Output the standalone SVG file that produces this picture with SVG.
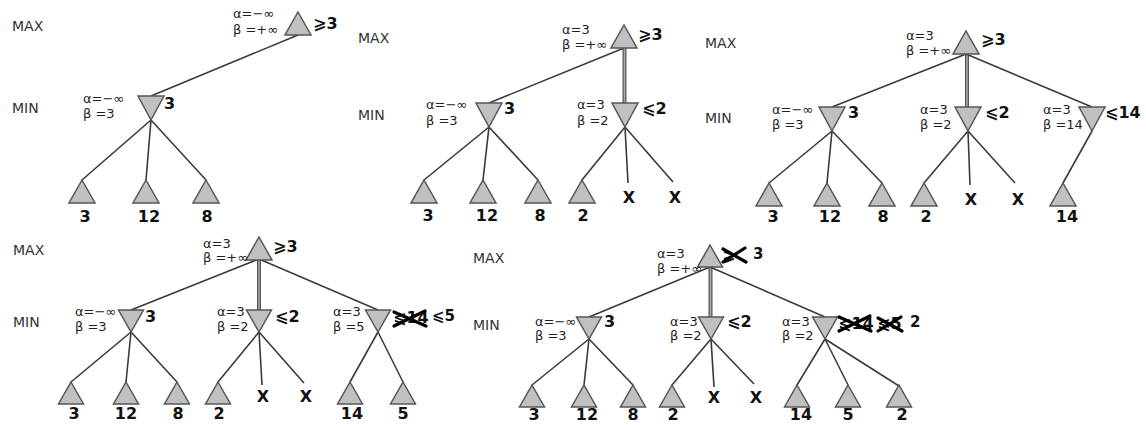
<svg xmlns="http://www.w3.org/2000/svg" xmlns:xlink="http://www.w3.org/1999/xlink" width="1146" height="425" viewBox="0 0 1146 425">
<style>
.tri{fill:#c0c0c0;stroke:#555;stroke-width:1.5;stroke-linejoin:miter}
.edge{stroke:#3a3a3a;stroke-width:1.6;fill:none}
.thick{stroke:#555;stroke-width:4}
.thickin{stroke:#a8a8a8;stroke-width:1.6}
.lvl{font-family:"DejaVu Sans",sans-serif;font-size:14px;fill:#333}
.ab{font-family:"DejaVu Sans",sans-serif;font-size:13px;fill:#222}
.val{font-family:"DejaVu Sans",sans-serif;font-weight:bold;font-size:16px;fill:#111}
.sm{font-size:15px}
.lv{font-family:"DejaVu Sans",sans-serif;font-weight:bold;font-size:16px;fill:#111;text-anchor:middle}
.cross{stroke:#000;stroke-width:3.2;stroke-linecap:round}
</style>
<defs>
<path id="up" class="tri" d="M0,0 L13,23 L-13,23 Z"/>
<path id="dn" class="tri" d="M-13,0 L13,0 L0,24 Z"/>
<path id="upS" class="tri" d="M0,0 L12.5,22 L-12.5,22 Z"/>
<path id="dnS" class="tri" d="M-12.5,0 L12.5,0 L0,22 Z"/>
</defs>
<rect width="1146" height="425" fill="#fff"/>

<g id="connectors">
<!-- panel 1 -->
<line class="edge" x1="298" y1="35" x2="151" y2="96"/>
<line class="edge" x1="151" y1="120" x2="82" y2="180"/>
<line class="edge" x1="151" y1="120" x2="146" y2="180"/>
<line class="edge" x1="151" y1="120" x2="206" y2="180"/>
<!-- panel 2 -->
<line class="edge" x1="624" y1="48" x2="489" y2="103"/>
<line class="thick" x1="624.5" y1="48" x2="624.5" y2="103"/>
<line class="thickin" x1="624.5" y1="48" x2="624.5" y2="103"/>
<line class="edge" x1="489" y1="127" x2="424" y2="180"/>
<line class="edge" x1="489" y1="127" x2="483" y2="180"/>
<line class="edge" x1="489" y1="127" x2="538" y2="180"/>
<line class="edge" x1="625" y1="127" x2="582" y2="180"/>
<line class="edge" x1="625" y1="127" x2="628" y2="183"/>
<line class="edge" x1="625" y1="127" x2="673" y2="182"/>
<!-- panel 3 -->
<line class="edge" x1="966" y1="54" x2="832" y2="107"/>
<line class="thick" x1="967" y1="54" x2="967" y2="107"/>
<line class="thickin" x1="967" y1="54" x2="967" y2="107"/>
<line class="edge" x1="966" y1="54" x2="1092" y2="107"/>
<line class="edge" x1="832" y1="131" x2="769" y2="183"/>
<line class="edge" x1="832" y1="131" x2="827" y2="183"/>
<line class="edge" x1="832" y1="131" x2="882" y2="183"/>
<line class="edge" x1="968" y1="131" x2="924" y2="183"/>
<line class="edge" x1="968" y1="131" x2="970" y2="185"/>
<line class="edge" x1="968" y1="131" x2="1015" y2="183"/>
<line class="edge" x1="1092" y1="131" x2="1063" y2="183"/>
<!-- panel 4 -->
<line class="edge" x1="259" y1="259" x2="131" y2="310"/>
<line class="thick" x1="259" y1="259" x2="259" y2="310"/>
<line class="thickin" x1="259" y1="259" x2="259" y2="310"/>
<line class="edge" x1="259" y1="259" x2="378" y2="310"/>
<line class="edge" x1="131" y1="332" x2="71" y2="382"/>
<line class="edge" x1="131" y1="332" x2="126" y2="382"/>
<line class="edge" x1="131" y1="332" x2="177" y2="382"/>
<line class="edge" x1="259" y1="332" x2="218" y2="382"/>
<line class="edge" x1="259" y1="332" x2="262" y2="385"/>
<line class="edge" x1="259" y1="332" x2="304" y2="383"/>
<line class="edge" x1="378" y1="332" x2="350" y2="382"/>
<line class="edge" x1="378" y1="332" x2="403" y2="382"/>
<!-- panel 5 -->
<line class="edge" x1="710" y1="267" x2="589" y2="317"/>
<line class="thick" x1="710.5" y1="267" x2="710.5" y2="317"/>
<line class="thickin" x1="710.5" y1="267" x2="710.5" y2="317"/>
<line class="edge" x1="710" y1="267" x2="825" y2="317"/>
<line class="edge" x1="589" y1="339" x2="532" y2="385"/>
<line class="edge" x1="589" y1="339" x2="584" y2="385"/>
<line class="edge" x1="589" y1="339" x2="633" y2="385"/>
<line class="edge" x1="711" y1="339" x2="672" y2="385"/>
<line class="edge" x1="711" y1="339" x2="714" y2="387"/>
<line class="edge" x1="711" y1="339" x2="754" y2="384"/>
<line class="edge" x1="825" y1="339" x2="797" y2="385"/>
<line class="edge" x1="825" y1="339" x2="848" y2="385"/>
<line class="edge" x1="825" y1="339" x2="899" y2="386"/>
</g>

<!-- Level labels -->
<g id="levels">
<text class="lvl" x="12" y="31">MAX</text>
<text class="lvl" x="12" y="113">MIN</text>
<text class="lvl" x="358" y="43">MAX</text>
<text class="lvl" x="358" y="120">MIN</text>
<text class="lvl" x="705" y="48">MAX</text>
<text class="lvl" x="705" y="123">MIN</text>
<text class="lvl" x="13" y="255">MAX</text>
<text class="lvl" x="13" y="327">MIN</text>
<text class="lvl" x="473" y="263">MAX</text>
<text class="lvl" x="473" y="330">MIN</text>
</g>

<!-- Panel 1 -->
<g id="p1-max"><use href="#up" x="298" y="12"/><text class="ab" x="233" y="18">α=−∞</text><text class="ab" x="233" y="34">β =+∞</text><text class="val" x="313" y="29">⩾3</text></g>
<g id="p1-min"><use href="#dn" x="151" y="96"/><text class="ab" x="83" y="103">α=−∞</text><text class="ab" x="83" y="118">β =3</text><text class="val" x="164" y="109">3</text></g>
<g id="p1-l1"><use href="#up" x="82" y="180"/><text class="lv" x="85" y="222">3</text></g>
<g id="p1-l2"><use href="#up" x="146" y="180"/><text class="lv" x="149" y="222">12</text></g>
<g id="p1-l3"><use href="#up" x="206" y="180"/><text class="lv" x="207" y="222">8</text></g>

<!-- Panel 2 -->
<g id="p2-max"><use href="#up" x="624" y="25"/><text class="ab" x="562" y="34">α=3</text><text class="ab" x="562" y="49">β =+∞</text><text class="val" x="638" y="40">⩾3</text></g>
<g id="p2-min1"><use href="#dn" x="489" y="103"/><text class="ab" x="426" y="109">α=−∞</text><text class="ab" x="426" y="125">β =3</text><text class="val" x="504" y="114">3</text></g>
<g id="p2-min2"><use href="#dn" x="625" y="103"/><text class="ab" x="577" y="109">α=3</text><text class="ab" x="577" y="125">β =2</text><text class="val" x="642" y="114">⩽2</text></g>
<g id="p2-l1"><use href="#up" x="424" y="180"/><text class="lv" x="428" y="221">3</text></g>
<g id="p2-l2"><use href="#up" x="483" y="180"/><text class="lv" x="487" y="221">12</text></g>
<g id="p2-l3"><use href="#up" x="538" y="180"/><text class="lv" x="540" y="221">8</text></g>
<g id="p2-l4"><use href="#up" x="582" y="180"/><text class="lv" x="583" y="221">2</text></g>
<g id="p2-x1"><text class="lv" x="629" y="203">X</text></g>
<g id="p2-x2"><text class="lv" x="675" y="203">X</text></g>

<!-- Panel 3 -->
<g id="p3-max"><use href="#up" x="966" y="31"/><text class="ab" x="906" y="40">α=3</text><text class="ab" x="906" y="55">β =+∞</text><text class="val" x="981" y="45">⩾3</text></g>
<g id="p3-min1"><use href="#dn" x="832" y="107"/><text class="ab" x="772" y="114">α=−∞</text><text class="ab" x="772" y="129">β =3</text><text class="val" x="848" y="118">3</text></g>
<g id="p3-min2"><use href="#dn" x="968" y="107"/><text class="ab" x="920" y="114">α=3</text><text class="ab" x="920" y="129">β =2</text><text class="val" x="985" y="118">⩽2</text></g>
<g id="p3-min3"><use href="#dn" x="1092" y="107"/><text class="ab" x="1043" y="114">α=3</text><text class="ab" x="1043" y="129">β =14</text><text class="val" x="1105" y="118">⩽14</text></g>
<g id="p3-l1"><use href="#up" x="769" y="183"/><text class="lv" x="773" y="222">3</text></g>
<g id="p3-l2"><use href="#up" x="827" y="183"/><text class="lv" x="830" y="222">12</text></g>
<g id="p3-l3"><use href="#up" x="882" y="183"/><text class="lv" x="883" y="222">8</text></g>
<g id="p3-l4"><use href="#up" x="924" y="183"/><text class="lv" x="926" y="222">2</text></g>
<g id="p3-x1"><text class="lv" x="971" y="205">X</text></g>
<g id="p3-x2"><text class="lv" x="1018" y="205">X</text></g>
<g id="p3-l5"><use href="#up" x="1063" y="183"/><text class="lv" x="1067" y="222">14</text></g>

<!-- Panel 4 -->
<g id="p4-max"><use href="#up" x="259" y="237"/><text class="ab" x="203" y="248">α=3</text><text class="ab" x="203" y="262">β =+∞</text><text class="val" x="273" y="252">⩾3</text></g>
<g id="p4-min1"><use href="#dnS" x="131" y="310"/><text class="ab" x="75" y="316">α=−∞</text><text class="ab" x="75" y="331">β =3</text><text class="val" x="145" y="322">3</text></g>
<g id="p4-min2"><use href="#dnS" x="259" y="310"/><text class="ab" x="217" y="316">α=3</text><text class="ab" x="217" y="331">β =2</text><text class="val" x="275" y="322">⩽2</text></g>
<g id="p4-min3"><use href="#dnS" x="378" y="310"/><text class="ab" x="333" y="316">α=3</text><text class="ab" x="333" y="331">β =5</text><text class="val" x="393" y="323">⩽14</text><line class="cross" x1="394" y1="312" x2="426" y2="326"/><line class="cross" x1="394" y1="326" x2="425" y2="311"/><text class="val sm" x="432" y="321">⩽5</text></g>
<g id="p4-l1"><use href="#upS" x="71" y="382"/><text class="lv" x="74" y="419">3</text></g>
<g id="p4-l2"><use href="#upS" x="126" y="382"/><text class="lv" x="126" y="419">12</text></g>
<g id="p4-l3"><use href="#upS" x="177" y="382"/><text class="lv" x="178" y="419">8</text></g>
<g id="p4-l4"><use href="#upS" x="218" y="382"/><text class="lv" x="219" y="419">2</text></g>
<g id="p4-x1"><text class="lv" x="263" y="402">X</text></g>
<g id="p4-x2"><text class="lv" x="306" y="402">X</text></g>
<g id="p4-l5"><use href="#upS" x="350" y="382"/><text class="lv" x="352" y="419">14</text></g>
<g id="p4-l6"><use href="#upS" x="403" y="382"/><text class="lv" x="403" y="419">5</text></g>

<!-- Panel 5 -->
<g id="p5-max"><use href="#upS" x="710" y="245"/><text class="ab" x="657" y="258">α=3</text><text class="ab" x="657" y="273">β =+∞</text><text class="val" x="722" y="261">⩾</text><line class="cross" x1="723" y1="249" x2="746" y2="262"/><line class="cross" x1="723" y1="262" x2="745" y2="248"/><text class="val sm" x="753" y="259">3</text></g>
<g id="p5-min1"><use href="#dnS" x="589" y="317"/><text class="ab" x="535" y="326">α=−∞</text><text class="ab" x="535" y="340">β =3</text><text class="val" x="604" y="327">3</text></g>
<g id="p5-min2"><use href="#dnS" x="711" y="317"/><text class="ab" x="670" y="326">α=3</text><text class="ab" x="670" y="340">β =2</text><text class="val" x="727" y="327">⩽2</text></g>
<g id="p5-min3"><use href="#dnS" x="825" y="317"/><text class="ab" x="782" y="326">α=3</text><text class="ab" x="782" y="340">β =2</text><text class="val" x="838" y="329">⩽14</text><line class="cross" x1="839" y1="317" x2="871" y2="331"/><line class="cross" x1="839" y1="331" x2="870" y2="316"/><text class="val" x="877" y="329">⩽5</text><line class="cross" x1="878" y1="318" x2="902" y2="331"/><line class="cross" x1="878" y1="331" x2="901" y2="317"/><text class="val sm" x="910" y="327">2</text></g>
<g id="p5-l1"><use href="#upS" x="532" y="385"/><text class="lv" x="534" y="420">3</text></g>
<g id="p5-l2"><use href="#upS" x="584" y="385"/><text class="lv" x="587" y="420">12</text></g>
<g id="p5-l3"><use href="#upS" x="633" y="385"/><text class="lv" x="633" y="420">8</text></g>
<g id="p5-l4"><use href="#upS" x="672" y="385"/><text class="lv" x="673" y="420">2</text></g>
<g id="p5-x1"><text class="lv" x="714" y="403">X</text></g>
<g id="p5-x2"><text class="lv" x="756" y="403">X</text></g>
<g id="p5-l5"><use href="#upS" x="797" y="385"/><text class="lv" x="801" y="420">14</text></g>
<g id="p5-l6"><use href="#upS" x="848" y="385"/><text class="lv" x="848" y="420">5</text></g>
<g id="p5-l7"><use href="#upS" x="899" y="385"/><text class="lv" x="902" y="420">2</text></g>
</svg>
